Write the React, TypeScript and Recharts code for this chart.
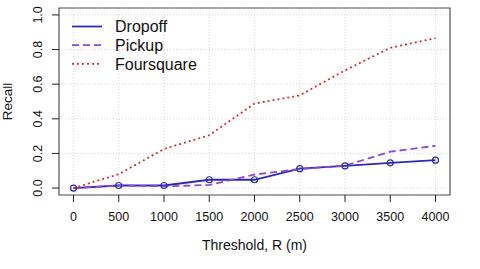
import {
  LineChart,
  Line,
  XAxis,
  YAxis,
  CartesianGrid,
  ReferenceArea,
  Label,
} from "recharts";

const thresholds = [0, 500, 1000, 1500, 2000, 2500, 3000, 3500, 4000];
const dropoff = [0, 0.015, 0.015, 0.048, 0.048, 0.112, 0.128, 0.146, 0.161];
const pickup = [0, 0.015, 0.01, 0.018, 0.078, 0.11, 0.13, 0.21, 0.244];
const foursquare = [0, 0.08, 0.226, 0.305, 0.488, 0.535, 0.68, 0.81, 0.866];

const xTicks = [0, 500, 1000, 1500, 2000, 2500, 3000, 3500, 4000];
const yTicks = [0, 0.2, 0.4, 0.6, 0.8, 1.0];

const FONT = "'Liberation Sans', Arial, sans-serif";

const series = [
  { key: "dropoff", name: "Dropoff", color: "#2a2ab4", dash: undefined, dot: true },
  { key: "pickup", name: "Pickup", color: "#9246d4", dash: "7 4", dot: false },
  { key: "foursquare", name: "Foursquare", color: "#cd3535", dash: "2 3", dot: false },
];

const data = thresholds.map((t, i) => ({
  t,
  dropoff: dropoff[i],
  pickup: pickup[i],
  foursquare: foursquare[i],
}));

function YTick(props: any) {
  const { x, y, payload } = props;
  return (
    <text
      x={0}
      y={0}
      transform={`translate(${x - 12},${y}) rotate(-90)`}
      textAnchor="middle"
      dy="0.35em"
      fontSize={12.5}
      fontFamily={FONT}
      fill="#111"
    >
      {Number(payload.value).toFixed(1)}
    </text>
  );
}

function YLabel(props: any) {
  const vb = props.viewBox || { y: 8, height: 187 };
  const cy = vb.y + vb.height / 2;
  return (
    <text
      x={0}
      y={0}
      transform={`translate(7.5,${cy}) rotate(-90)`}
      textAnchor="middle"
      dy="0.35em"
      fontSize={13.5}
      fontFamily={FONT}
      fill="#111"
    >
      Recall
    </text>
  );
}

function LegendBox() {
  return (
    <svg
      width={120}
      height={70}
      style={{ position: "absolute", left: 72, top: 16, overflow: "visible" }}
    >
      {series.map((s, i) => {
        const y = 10.5 + i * 18.7;
        return (
          <g key={s.key}>
            <line
              x1={0}
              x2={30}
              y1={y}
              y2={y}
              stroke={s.color}
              strokeWidth={1.8}
              strokeDasharray={s.dash}
            />
            <text
              x={43}
              y={y}
              dy="0.36em"
              fontSize={16}
              fontFamily={FONT}
              fill="#111"
            >
              {s.name}
            </text>
          </g>
        );
      })}
    </svg>
  );
}

export default function App() {
  return (
    <div style={{ position: "absolute", left: 0, top: 0, width: 480, height: 269, background: "#fff" }}>
      <LineChart
        width={480}
        height={269}
        data={data}
        margin={{ top: 8, right: 30, bottom: 0, left: 0 }}
      >
        <CartesianGrid stroke="#d6d6d6" strokeDasharray="1 2" />
        <XAxis
          dataKey="t"
          type="number"
          domain={[-160, 4160]}
          ticks={xTicks}
          height={74}
          tickSize={7}
          tickMargin={10}
          axisLine={false}
          tickLine={{ stroke: "#222" }}
          tick={{ fontSize: 12.5, fill: "#111", fontFamily: FONT }}
          interval={0}
          allowDataOverflow
        >
          <Label
            value="Threshold, R (m)"
            position="insideBottom"
            offset={19}
            style={{ fontSize: 14, fill: "#111", fontFamily: FONT }}
          />
        </XAxis>
        <YAxis
          type="number"
          domain={[-0.04, 1.04]}
          ticks={yTicks}
          width={59}
          tickSize={7}
          tickMargin={2}
          axisLine={false}
          tickLine={{ stroke: "#222" }}
          tick={<YTick />}
          interval={0}
          allowDataOverflow
        >
          <Label content={<YLabel />} />
        </YAxis>
        <ReferenceArea
          x1={-160}
          x2={4160}
          y1={-0.04}
          y2={1.04}
          fill="none"
          stroke="#555"
          strokeWidth={1.2}
          fillOpacity={0}
          ifOverflow="visible"
        />
        {series.map((s) => (
          <Line
            key={s.key}
            dataKey={s.key}
            name={s.name}
            type="linear"
            stroke={s.color}
            strokeWidth={1.8}
            strokeDasharray={s.dash}
            dot={s.dot ? { r: 3, stroke: s.color, strokeWidth: 1.2, fill: "none" } : false}
            activeDot={false}
            isAnimationActive={false}
          />
        ))}
      </LineChart>
      <LegendBox />
    </div>
  );
}
